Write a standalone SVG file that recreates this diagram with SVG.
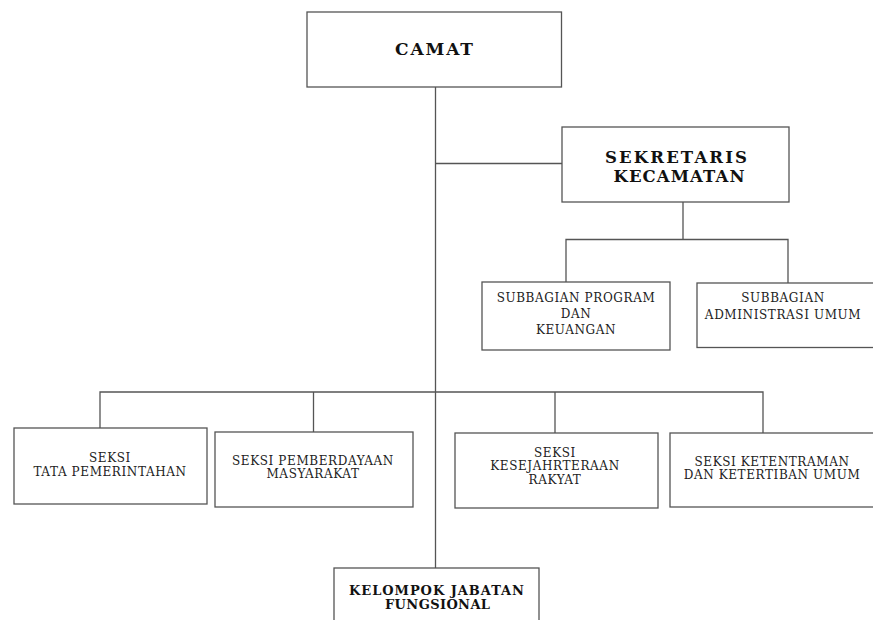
<svg xmlns="http://www.w3.org/2000/svg" width="873" height="620" viewBox="0 0 873 620">
<style>
.box{fill:#fff;stroke:#555;stroke-width:1.3}
.ln{fill:none;stroke:#555;stroke-width:1.3}
.t{font-family:"DejaVu Serif","Liberation Serif",serif;font-size:12px;letter-spacing:0.6px;fill:#222;text-anchor:middle}
.b{font-family:"DejaVu Serif","Liberation Serif",serif;font-weight:bold;fill:#111;text-anchor:middle}
</style>
<rect width="873" height="620" fill="#fff"/>
<g id="connectors">
<path class="ln" d="M435.5 87V568"/>
<path class="ln" d="M435.5 163.5H562"/>
<path class="ln" d="M683 202V239.5M566 282V239.5H788V283"/>
<path class="ln" d="M100 428V392H763V433M313.5 392V432M555 392V433"/>
</g>
<g id="camat">
<rect class="box" x="307" y="12" width="254.5" height="75"/>
<text class="b" x="434" y="55" font-size="17" textLength="78" lengthAdjust="spacing">CAMAT</text>
</g>
<g id="sekretaris">
<rect class="box" x="562" y="127" width="227" height="75"/>
<text class="b" x="676" y="163" font-size="16.5" textLength="142" lengthAdjust="spacing">SEKRETARIS</text>
<text class="b" x="679" y="182" font-size="16.5" textLength="131" lengthAdjust="spacing">KECAMATAN</text>
</g>
<g id="subbagian-program">
<rect class="box" x="482" y="282" width="188" height="68"/>
<text class="t" x="576" y="301.5">SUBBAGIAN PROGRAM</text>
<text class="t" x="576" y="317.5">DAN</text>
<text class="t" x="576" y="334">KEUANGAN</text>
</g>
<g id="subbagian-admin">
<rect class="box" x="697" y="283" width="180" height="64.5"/>
<text class="t" x="783" y="301.5">SUBBAGIAN</text>
<text class="t" x="783" y="319">ADMINISTRASI UMUM</text>
</g>
<g id="seksi-tata">
<rect class="box" x="14" y="428" width="193" height="76"/>
<text class="t" x="110" y="462">SEKSI</text>
<text class="t" x="110" y="475.5">TATA PEMERINTAHAN</text>
</g>
<g id="seksi-pemberdayaan">
<rect class="box" x="215" y="432" width="198" height="75"/>
<text class="t" x="313" y="465">SEKSI PEMBERDAYAAN</text>
<text class="t" x="313" y="478">MASYARAKAT</text>
</g>
<g id="seksi-kesejahteraan">
<rect class="box" x="455" y="433" width="203" height="75"/>
<text class="t" x="555" y="456.5">SEKSI</text>
<text class="t" x="555" y="470">KESEJAHRTERAAN</text>
<text class="t" x="555" y="484">RAKYAT</text>
</g>
<g id="seksi-ketentraman">
<rect class="box" x="670" y="433" width="207" height="74"/>
<text class="t" x="772" y="466">SEKSI KETENTRAMAN</text>
<text class="t" x="772" y="479">DAN KETERTIBAN UMUM</text>
</g>
<g id="kelompok">
<rect class="box" x="334" y="568" width="205" height="60"/>
<text class="b" x="436.5" y="594.5" font-size="13" textLength="175" lengthAdjust="spacing">KELOMPOK JABATAN</text>
<text class="b" x="437.5" y="609" font-size="13" textLength="105" lengthAdjust="spacing">FUNGSIONAL</text>
</g>
</svg>
